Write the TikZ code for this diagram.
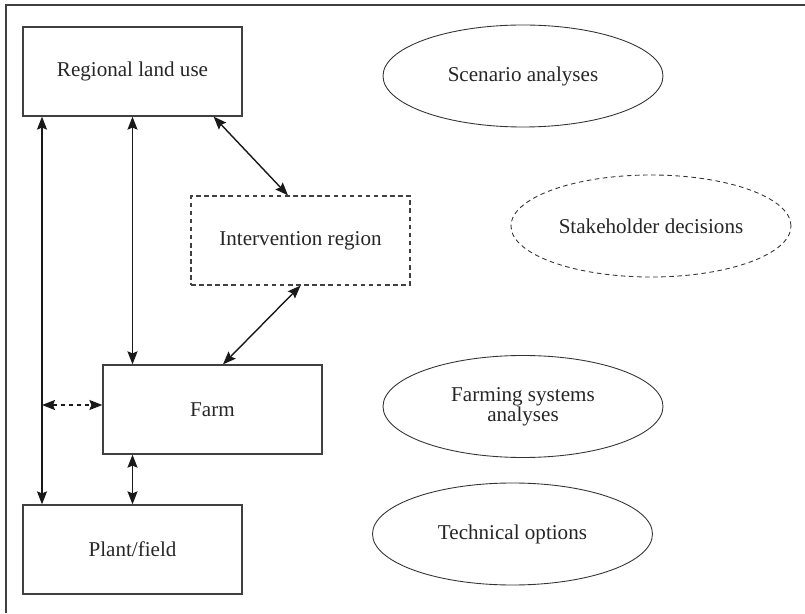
\documentclass[tikz,border=0pt]{standalone}
\usepackage[dvipsnames]{xcolor}
\usepackage{fontspec}
\setmainfont{Liberation Serif}
\usetikzlibrary{arrows.meta, shapes.geometric}

\tikzset{
  levelbox/.style={draw=black!75, line width=0.7pt, minimum width=4.38cm, minimum height=1.78cm, inner sep=0pt, text=black!85, font=\fontsize{12}{11.5}\selectfont},
  dashbox/.style={levelbox, dash pattern=on 2.6pt off 2pt},
  toolell/.style={ellipse, draw=black!80, line width=0.5pt, minimum width=5.6cm, minimum height=2.04cm, inner sep=0pt, text=black!85, font=\fontsize{12}{11.5}\selectfont, align=center},
  linkarr/.style={{Stealth[length=2.6mm,width=2mm,inset=0.4mm]}-{Stealth[length=2.6mm,width=2mm,inset=0.4mm]}, line width=0.8pt, black!90},
}

\begin{document}
\begin{tikzpicture}
\useasboundingbox (0,0) rectangle (16.1,12.26);
%\draw[step=0.5cm,gray,very thin] (0,0) grid (16,12); %background grid

% frame (cut at the right and bottom)
\draw[black!75, line width=0.8pt] (0.12,0) -- (0.12,12.16) -- (16.1,12.16);

% levels
\node[levelbox] (reg)   at (2.65,10.83) {Regional land use};
\node[dashbox]  (inter) at (6.01,7.45)  {Intervention region};
\node[levelbox] (farm)  at (4.25,4.07)  {Farm};
\node[levelbox] (plant) at (2.65,1.27)  {Plant/field};

% tools
\node[toolell] (scen)    at (10.46,10.74) {Scenario analyses};
\node[toolell, dash pattern=on 2.6pt off 2pt] (stake) at (13.02,7.74) {Stakeholder decisions};
\node[toolell] (farmsys) at (10.46,4.13)  {Farming systems\\analyses};
\node[toolell] (tech)    at (10.25,1.58)  {Technical options};

% links
\coordinate (lx) at (0.84,0);
\draw[linkarr] (lx |- reg.south) -- (lx |- plant.north);
\draw[linkarr] (reg.south) -- (reg.south |- farm.north);
\draw[linkarr] ([xshift=-0.58cm]reg.south east) -- ([xshift=-0.25cm]inter.north);
\draw[linkarr] (inter.south) -- ([xshift=0.21cm]farm.north);
\draw[linkarr, dash pattern=on 2.6pt off 2pt] ([yshift=0.09cm]lx |- farm.west) -- ([yshift=0.09cm]farm.west);
\draw[linkarr] (plant.north |- farm.south) -- (plant.north);

%\node[] at (8,11.5) {levels vs. tools};
\end{tikzpicture}
\end{document}
